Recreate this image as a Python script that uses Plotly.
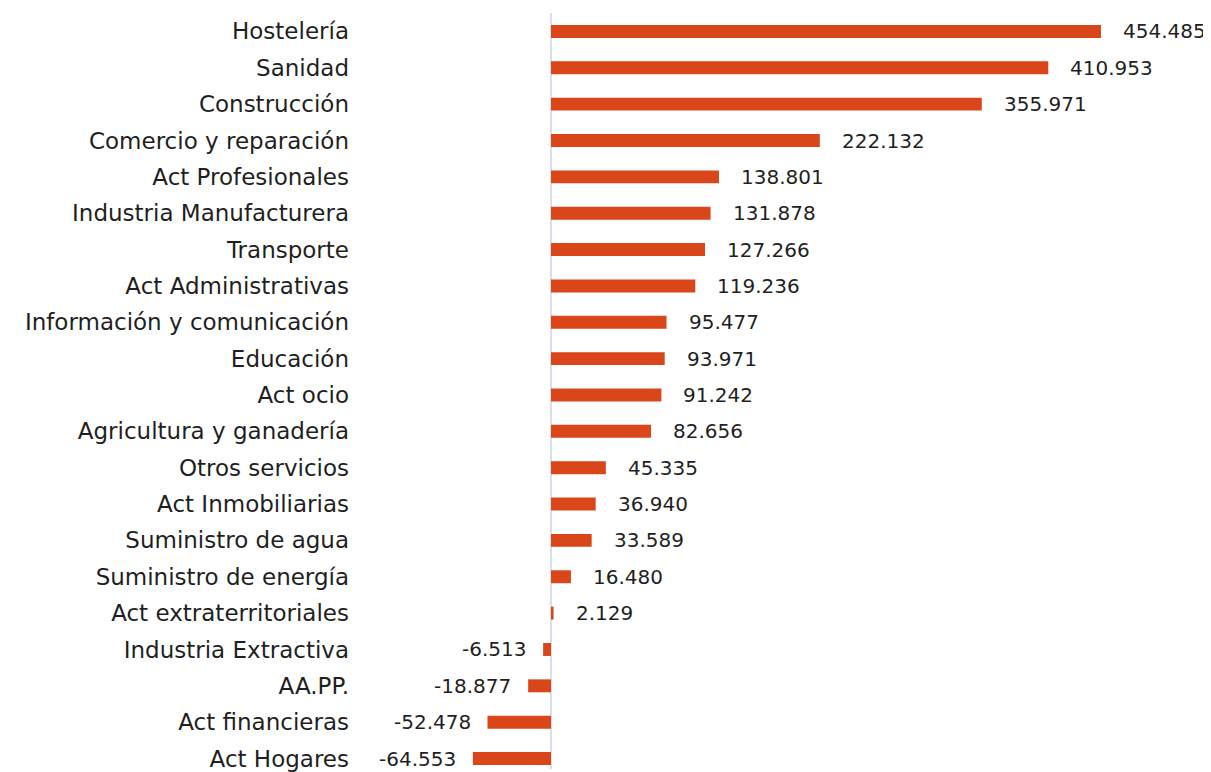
import plotly.graph_objs as go

# Data (sectors and change values)
sectores = [
    "Hostelería", "Sanidad", "Construcción", "Comercio y reparación",
    "Act Profesionales", "Industria Manufacturera", "Transporte",
    "Act Administrativas", "Información y comunicación", "Educación",
    "Act ocio", "Agricultura y ganadería", "Otros servicios",
    "Act Inmobiliarias", "Suministro de agua", "Suministro de energía",
    "Act extraterritoriales", "Industria Extractiva", "AA.PP.",
    "Act financieras", "Act Hogares",
]
valores = [
    454485, 410953, 355971, 222132, 138801, 131878, 127266, 119236,
    95477, 93971, 91242, 82656, 45335, 36940, 33589, 16480, 2129,
    -6513, -18877, -52478, -64553,
]

BAR_COLOR = "#D9461A"
TEXT_COLOR = "#1F1F1F"
FONT = "DejaVu Sans"


def fmt(v):
    return f"{v:,}".replace(",", ".")


fig = go.Figure()

fig.add_trace(go.Bar(
    x=valores,
    y=sectores,
    orientation="h",
    marker=dict(color=BAR_COLOR, line=dict(width=0)),
    hoverinfo="x+y",
))

# value labels next to each bar end
annotations = []
for s, v in zip(sectores, valores):
    annotations.append(dict(
        x=v, y=s, xref="x", yref="y",
        text=fmt(v), showarrow=False,
        xanchor="left" if v >= 0 else "right",
        xshift=20 if v >= 0 else -15,
        yshift=0,
        font=dict(family=FONT, size=20, color=TEXT_COLOR),
    ))

fig.update_layout(
    width=1203, height=764,
    margin=dict(l=342, r=0, t=5, b=0),
    paper_bgcolor="white",
    plot_bgcolor="white",
    showlegend=False,
    bargap=0.644,
    font=dict(family=FONT, size=20, color=TEXT_COLOR),
    annotations=annotations,
)

fig.update_xaxes(
    range=[-166100, 545400],
    showgrid=False,
    showticklabels=False,
    zeroline=True,
    zerolinecolor="#D9DEE8",
    zerolinewidth=2,
    showline=False,
)

fig.update_yaxes(
    type="category",
    range=[20.288, -0.507],
    showgrid=False,
    ticks="",
    showline=False,
    tickfont=dict(family=FONT, size=23, color=TEXT_COLOR),
)

fig.write_html("out.html")
